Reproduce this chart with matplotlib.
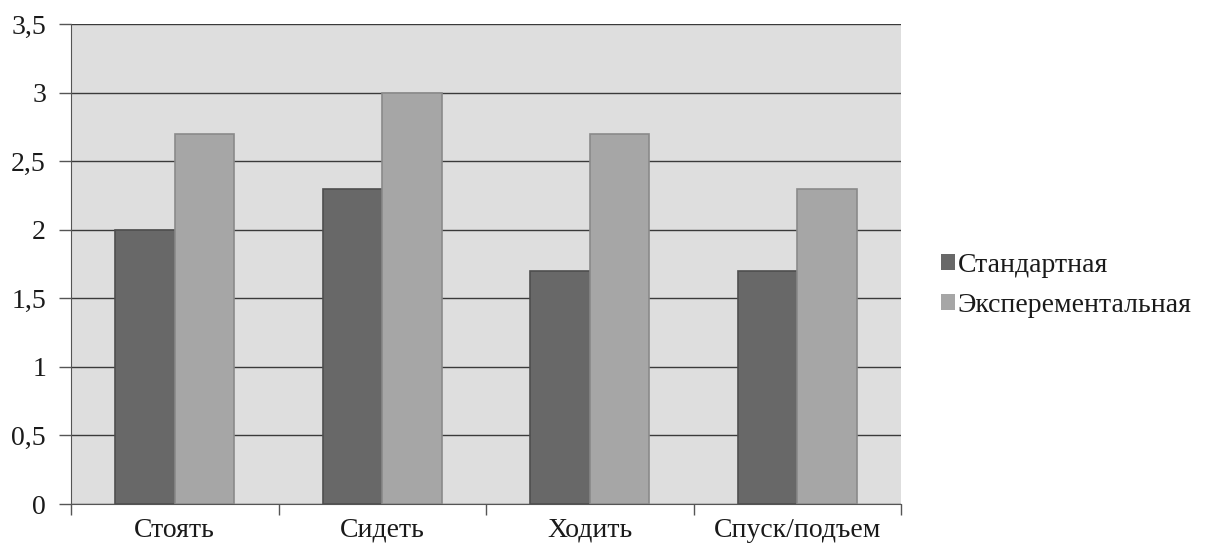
import matplotlib
matplotlib.use("Agg")
import matplotlib.pyplot as plt
import numpy as np

categories = ["Стоять", "Сидеть", "Ходить", "Спуск/подъем"]
standard = [2.0, 2.3, 1.7, 1.7]
experimental = [2.7, 3.0, 2.7, 2.3]
series_names = ["Стандартная", "Эксперементальная"]
y_ticks = [0, 0.5, 1, 1.5, 2, 2.5, 3, 3.5]
y_labels = ["0", "0,5", "1", "1,5", "2", "2,5", "3", "3,5"]

plt.rcParams["font.family"] = "serif"
plt.rcParams["font.serif"] = ["Liberation Serif", "DejaVu Serif"]
plt.rcParams["text.color"] = "#1a1a1a"

FS = 20

fig = plt.figure(figsize=(12.07, 5.47), dpi=100)
ax = fig.add_axes([71 / 1207, 1 - 504 / 547, 830 / 1207, 480 / 547])
ax.set_facecolor("#dedede")

x = np.arange(len(categories))
w = 1 / 3.5
ax.bar(x - w / 2, standard, width=w, color="#686868", edgecolor="#4e4e4e",
       linewidth=1.2, zorder=3, label=series_names[0])
ax.bar(x + w / 2, experimental, width=w, color="#a6a6a6", edgecolor="#8a8a8a",
       linewidth=1.2, zorder=3, label=series_names[1])

ax.set_xlim(-0.5, len(categories) - 0.5)
ax.set_ylim(0, 3.5)
ax.set_yticks(y_ticks)
ax.set_yticklabels(y_labels, fontsize=FS, color="#1a1a1a")
ax.set_xticks(x)
ax.set_xticklabels(categories, fontsize=FS, color="#1a1a1a")
ax.set_xticks(np.arange(len(categories) + 1) - 0.5, minor=True)

ax.grid(axis="y", color="#3a3a3a", linewidth=1.0, zorder=1)
ax.tick_params(axis="x", which="major", length=0, pad=10)
ax.tick_params(axis="x", which="minor", length=8, width=1, color="#555555", direction="out")
ax.tick_params(axis="y", length=9, width=1, color="#555555", pad=9)

for side in ["top", "right"]:
    ax.spines[side].set_visible(False)
ax.spines["left"].set_color("#555555")
ax.spines["bottom"].set_color("#555555")

leg = fig.legend(loc="upper left", bbox_to_anchor=(927 / 1207, 1 - 239 / 547),
                 frameon=False, fontsize=FS, handlelength=0.5, handleheight=0.5,
                 handletextpad=0.1, labelspacing=0.55, borderpad=0)
for h in leg.legend_handles:
    h.set_edgecolor("none")

fig.savefig("out.png", dpi=100)
